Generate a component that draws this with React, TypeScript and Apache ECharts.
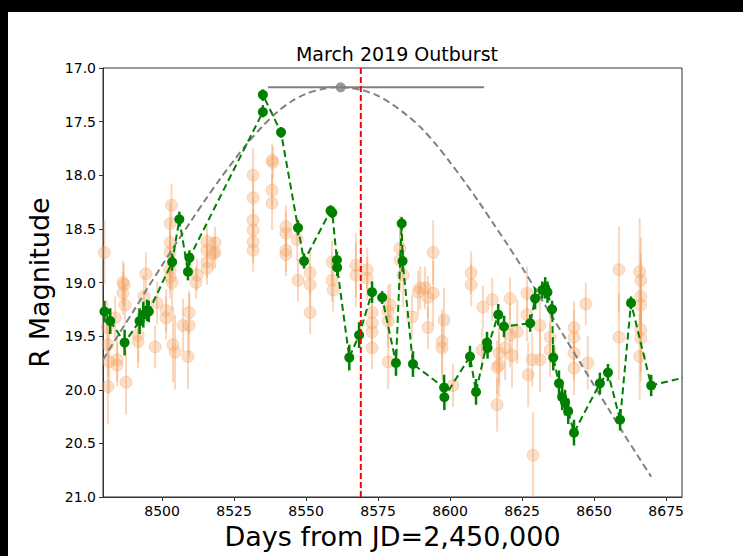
import React, { useEffect, useRef } from "react";
import * as echarts from "echarts";

// Green (primary) light curve: day, R magnitude, error
const greenDays = [8480, 8482, 8487, 8492.2, 8493.5, 8494.8, 8495.4, 8503.5, 8506, 8509, 8509.5, 8535, 8535, 8541.3, 8547.2, 8549.3, 8558.5, 8559.1, 8560.7, 8560.8, 8565, 8568.4, 8572.9, 8576.4, 8581.2, 8583.2, 8583.5, 8587.1, 8597.9, 8598, 8606.9, 8609, 8612.8, 8613, 8616.7, 8618.7, 8627.8, 8629.5, 8632, 8633, 8633.8, 8635.4, 8635.8, 8637.8, 8638.9, 8639.9, 8641, 8643, 8652, 8654.8, 8659, 8662.8, 8669.8, 8690];
const greenMag = [19.27, 19.36, 19.56, 19.36, 19.3, 19.26, 19.27, 18.81, 18.41, 18.9, 18.77, 17.41, 17.25, 17.6, 18.49, 18.8, 18.33, 18.35, 18.79, 18.86, 19.7, 19.49, 19.09, 19.14, 19.75, 18.45, 18.8, 19.76, 19.98, 20.07, 19.69, 20.02, 19.56, 19.61, 19.3, 19.41, 19.38, 19.15, 19.07, 19.05, 19.09, 19.25, 19.7, 19.94, 20.07, 20.12, 20.2, 20.4, 19.94, 19.84, 20.28, 19.19, 19.96, 19.83];
const greenErr = [0.1, 0.12, 0.12, 0.12, 0.12, 0.1, 0.1, 0.08, 0.07, 0.08, 0.07, 0.05, 0.05, 0.05, 0.07, 0.07, 0.05, 0.05, 0.08, 0.08, 0.12, 0.12, 0.1, 0.06, 0.12, 0.06, 0.1, 0.12, 0.12, 0.12, 0.1, 0.12, 0.1, 0.1, 0.1, 0.1, 0.08, 0.1, 0.08, 0.1, 0.1, 0.08, 0.12, 0.12, 0.12, 0.12, 0.12, 0.12, 0.1, 0.08, 0.1, 0.06, 0.1, 0.1];

// Faded (secondary) observations
const orangeDays = [8480, 8480.9, 8481.2, 8481.6, 8481.2, 8483.7, 8484.4, 8484.4, 8486.4, 8486.8, 8486.4, 8487.1, 8487.5, 8491.7, 8491.7, 8494.4, 8493.7, 8497.6, 8498.3, 8501.4, 8501.4, 8502.8, 8503.5, 8502.8, 8503.8, 8504.5, 8503.3, 8502.8, 8502.8, 8502.8, 8507.3, 8509.4, 8509.4, 8509, 8511.8, 8512.1, 8515.6, 8515.6, 8515.6, 8515.6, 8518.4, 8518.4, 8517.7, 8531.6, 8531.6, 8531.6, 8531.6, 8531.6, 8531.6, 8538.5, 8538.2, 8538.2, 8538.2, 8543, 8543, 8543, 8543, 8546.9, 8547.2, 8551.4, 8551.4, 8551.4, 8559, 8559, 8559.4, 8567.3, 8567.3, 8571.2, 8571.2, 8572.9, 8572.9, 8572.9, 8572.9, 8578.5, 8578.5, 8578.5, 8579.2, 8582.6, 8582.6, 8583.7, 8586.8, 8588.9, 8589.6, 8591.3, 8592.3, 8592.3, 8594.1, 8594.1, 8597.2, 8597.2, 8597.9, 8601, 8607.3, 8607.3, 8611.1, 8611.4, 8614.6, 8616.3, 8616.3, 8617, 8617, 8619.1, 8620.8, 8620.8, 8621.5, 8623.3, 8626.7, 8626.7, 8627.1, 8628.5, 8628.8, 8631.2, 8631.2, 8634.7, 8634.7, 8643, 8643, 8643, 8643, 8647.1, 8647.8, 8658.6, 8658.6, 8665.8, 8666.2, 8666.2, 8666.2, 8666.2, 8666.2, 8665.8];
const orangeMag = [18.72, 19.42, 19.97, 19.74, 19.58, 19.33, 19.72, 19.77, 19.0, 19.02, 19.1, 19.21, 19.93, 19.55, 19.49, 18.92, 19.13, 19.6, 19.19, 19.33, 19.26, 18.95, 19.0, 18.88, 19.58, 19.65, 18.28, 18.45, 18.63, 18.72, 19.4, 19.4, 19.28, 19.69, 19.0, 18.93, 18.81, 18.87, 18.62, 18.7, 18.63, 18.72, 18.73, 18.0, 18.21, 18.42, 18.51, 18.62, 18.7, 17.88, 17.86, 18.14, 18.26, 18.48, 18.54, 18.7, 18.74, 18.6, 18.98, 18.91, 19.02, 19.28, 18.81, 18.98, 19.07, 18.84, 18.93, 18.88, 18.96, 19.28, 19.38, 19.46, 19.61, 19.74, 19.27, 19.36, 19.21, 18.68, 18.79, 18.93, 19.32, 19.09, 19.05, 19.05, 19.14, 19.42, 18.72, 19.1, 19.55, 19.61, 19.35, 19.96, 18.91, 19.02, 19.63, 19.23, 19.16, 19.79, 20.14, 19.66, 19.77, 19.61, 19.15, 19.49, 19.68, 19.46, 19.1, 19.3, 19.86, 19.72, 20.61, 19.4, 19.72, 19.51, 19.63, 19.42, 19.51, 19.66, 19.8, 19.2, 19.75, 18.88, 19.51, 18.9, 18.98, 19.13, 19.21, 19.44, 19.52, 19.69];
const orangeErr = [0.3, 0.25, 0.35, 0.3, 0.3, 0.2, 0.2, 0.2, 0.2, 0.2, 0.2, 0.2, 0.3, 0.25, 0.25, 0.2, 0.2, 0.2, 0.2, 0.2, 0.2, 0.2, 0.25, 0.2, 0.35, 0.35, 0.2, 0.2, 0.2, 0.2, 0.25, 0.3, 0.2, 0.3, 0.15, 0.15, 0.15, 0.15, 0.15, 0.15, 0.15, 0.15, 0.15, 0.25, 0.2, 0.2, 0.2, 0.2, 0.2, 0.15, 0.15, 0.15, 0.25, 0.2, 0.2, 0.2, 0.2, 0.2, 0.2, 0.2, 0.2, 0.2, 0.2, 0.2, 0.2, 0.3, 0.3, 0.2, 0.2, 0.2, 0.2, 0.2, 0.2, 0.25, 0.25, 0.25, 0.2, 0.3, 0.3, 0.3, 0.2, 0.2, 0.2, 0.2, 0.2, 0.2, 0.3, 0.3, 0.3, 0.3, 0.3, 0.2, 0.2, 0.2, 0.2, 0.2, 0.2, 0.25, 0.25, 0.3, 0.3, 0.3, 0.2, 0.3, 0.3, 0.3, 0.25, 0.25, 0.3, 0.25, 0.4, 0.3, 0.3, 0.25, 0.25, 0.25, 0.25, 0.25, 0.25, 0.2, 0.25, 0.4, 0.4, 0.5, 0.4, 0.4, 0.4, 0.4, 0.4, 0.4];

// Model curve (gray dashed), sampled off the figure
const modelDays = [8479.5, 8485, 8490, 8495, 8500, 8505, 8510, 8515, 8520, 8525, 8530, 8535, 8540, 8545, 8550, 8555, 8560, 8565, 8570, 8575, 8580, 8585, 8590, 8595, 8600, 8605, 8610, 8615, 8620, 8625, 8630, 8635, 8640, 8645, 8650, 8655, 8660, 8665, 8669.8];
const modelMag = [19.72, 19.48, 19.27, 19.05, 18.84, 18.63, 18.43, 18.23, 18.04, 17.86, 17.69, 17.54, 17.41, 17.31, 17.24, 17.2, 17.18, 17.185, 17.21, 17.26, 17.34, 17.44, 17.56, 17.71, 17.88, 18.06, 18.25, 18.45, 18.65, 18.86, 19.08, 19.3, 19.52, 19.74, 19.96, 20.18, 20.4, 20.61, 20.81];

// Peak estimate with horizontal uncertainty
const peakDay = 8562;
const peakMag = 17.18;
const peakRange = [8536.8, 8611.8];

// Outburst reference date
const refDay = 8569;

const xTicks = [8500, 8525, 8550, 8575, 8600, 8625, 8650, 8675];

const FONT = "DejaVu Sans";

function errRender(color: string, width: number) {
  return (params: any, api: any) => {
    const x = api.value(0);
    const y = api.value(1);
    const e = api.value(2);
    const p1 = api.coord([x, y - e]);
    const p2 = api.coord([x, y + e]);
    return {
      type: "line",
      shape: { x1: p1[0], y1: p1[1], x2: p2[0], y2: p2[1] },
      style: { stroke: color, lineWidth: width },
    };
  };
}

export default function App() {
  const ref = useRef<HTMLDivElement>(null);
  useEffect(() => {
    if (!ref.current) return;
    const chart = echarts.init(ref.current, null, { renderer: "svg" });
    const orangeColor = "rgba(244,160,96,0.42)";
    const green = "#008000";
    const option: any = {
      animation: false,
      backgroundColor: "#000",
      graphic: [
        {
          type: "rect",
          shape: { x: 8, y: 12, width: 743, height: 556 },
          style: { fill: "#fff" },
          z: -10,
          silent: true,
        },
      ],
      title: {
        text: "March 2019 Outburst",
        left: 392,
        textAlign: "center",
        top: 39,
        textStyle: { fontFamily: FONT, fontSize: 19, fontWeight: "normal", color: "#000" },
      },
      grid: {
        left: 103,
        top: 68,
        right: 61,
        bottom: 59,
        show: true,
        borderColor: "#333",
        borderWidth: 1,
        backgroundColor: "#fff",
      },
      xAxis: {
        type: "value",
        min: 8479.5,
        max: 8680.5,
        name: "Days from JD=2,450,000",
        nameLocation: "middle",
        nameGap: 26,
        nameTextStyle: { fontFamily: FONT, fontSize: 27, color: "#000", verticalAlign: "top" },
        splitLine: { show: false },
        axisLine: { show: true, onZero: false, lineStyle: { color: "#333", width: 1 } },
        axisTick: { show: true, length: 4, lineStyle: { color: "#333" }, customValues: xTicks },
        axisLabel: {
          fontFamily: FONT,
          fontSize: 14,
          color: "#000",
          margin: 7,
          customValues: xTicks,
          formatter: (v: number) => String(v),
        },
      },
      yAxis: {
        type: "value",
        inverse: true,
        min: 17,
        max: 21,
        interval: 0.5,
        name: "R Magnitude",
        nameLocation: "middle",
        nameGap: 50,
        nameRotate: 90,
        nameTextStyle: { fontFamily: FONT, fontSize: 27, color: "#000" },
        splitLine: { show: false },
        axisLine: { show: true, lineStyle: { color: "#333", width: 1 } },
        axisTick: { show: true, length: 4, lineStyle: { color: "#333" } },
        axisLabel: {
          fontFamily: FONT,
          fontSize: 14,
          color: "#000",
          margin: 7,
          formatter: (v: number) => v.toFixed(1),
        },
      },
      series: [
        {
          type: "custom",
          name: "faded-err",
          clip: true,
          renderItem: errRender(orangeColor, 2),
          data: orangeDays.map((d, i) => [d, orangeMag[i], orangeErr[i]]),
          z: 1,
          silent: true,
        },
        {
          type: "scatter",
          name: "faded",
          clip: true,
          symbol: "circle",
          symbolSize: 12,
          itemStyle: { color: orangeColor, borderColor: orangeColor, borderWidth: 1 },
          data: orangeDays.map((d, i) => [d, orangeMag[i]]),
          z: 2,
          silent: true,
        },
        {
          type: "line",
          name: "model",
          smooth: 0.3,
          symbol: "none",
          clip: true,
          lineStyle: { color: "#808080", width: 2, type: [7, 4] },
          data: modelDays.map((d, i) => [d, modelMag[i]]),
          z: 3,
          silent: true,
        },
        {
          type: "line",
          name: "peak-range",
          symbol: "none",
          lineStyle: { color: "#808080", width: 2 },
          data: peakRange.map((d) => [d, peakMag]),
          z: 4,
          silent: true,
        },
        {
          type: "scatter",
          name: "peak",
          symbolSize: 10,
          itemStyle: { color: "#808080" },
          data: [[peakDay, peakMag]],
          z: 4,
          silent: true,
        },
        {
          type: "custom",
          name: "green-err",
          clip: true,
          renderItem: errRender(green, 2.5),
          data: greenDays.map((d, i) => [d, greenMag[i], greenErr[i]]),
          z: 5,
          silent: true,
        },
        {
          type: "line",
          name: "green",
          clip: true,
          symbol: "circle",
          symbolSize: 10,
          itemStyle: { color: green },
          lineStyle: { color: green, width: 2, type: [7, 4] },
          data: greenDays.map((d, i) => [d, greenMag[i]]),
          z: 6,
          silent: true,
        },
        {
          type: "line",
          name: "ref",
          symbol: "none",
          clip: true,
          lineStyle: { color: "#ff0000", width: 2, type: [6, 3] },
          data: [
            [refDay, 17],
            [refDay, 21],
          ],
          z: 7,
          silent: true,
        },
      ],
    };
    chart.setOption(option);
    return () => chart.dispose();
  }, []);
  return (
    <div
      ref={ref}
      style={{ position: "fixed", left: 0, top: 0, width: 743, height: 556 }}
    />
  );
}
